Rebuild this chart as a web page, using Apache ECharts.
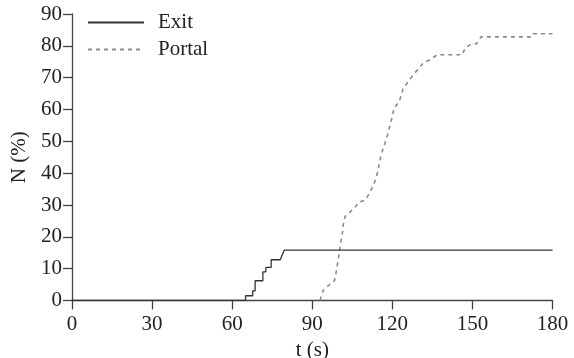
<!DOCTYPE html>
<html>
<head>
<meta charset="utf-8">
<script src="https://cdn.jsdelivr.net/npm/echarts@6/dist/echarts.min.js"></script>
<style>html,body{margin:0;padding:0;background:#fff}#c{width:574px;height:358px}</style>
</head>
<body>
<div id="c"></div>
<script>
const xTicks = [0, 30, 60, 90, 120, 150, 180];
const yTicks = [0, 10, 20, 30, 40, 50, 60, 70, 80, 90];
const seriesNames = ['Exit', 'Portal'];
const exitT = [0, 65, 65, 67.7, 67.7, 68.6, 68.6, 71.5, 71.5, 72.6, 72.6, 74.6, 74.6, 78, 79.5, 180];
const exitN = [0, 0, 1.5, 1.5, 3.0, 3.0, 6.2, 6.2, 9.0, 9.0, 10.4, 10.4, 12.8, 12.8, 15.8, 15.8];
const portalT = [93, 93.3, 94.2, 96.4, 98.3, 98.9, 99.4, 99.9, 100.3, 100.8, 101.3, 101.6, 102.3, 103.9, 105.8, 107.3, 109.9, 111.6, 112.9, 113.9, 114.6, 115.1, 115.8, 116.8, 117.9, 118.5, 120, 120.6, 122.6, 124.1, 126, 127.8, 129.7, 131.6, 134.4, 136.8, 146.3, 147.2, 149.1, 151.6, 152.2, 153.2, 172.2, 172.8, 180];
const portalN = [0, 1.2, 3.3, 4.9, 6.2, 8.6, 11.2, 13.8, 16.2, 18.8, 21.3, 23.7, 26.4, 27.6, 29.0, 30.8, 31.6, 33.9, 36.3, 38.4, 40.8, 43.1, 45.7, 48.4, 51.0, 53.1, 57.8, 60.4, 62.5, 66.7, 68.8, 70.9, 72.7, 74.6, 75.8, 77.2, 77.2, 79.3, 80.3, 80.7, 81.4, 82.8, 82.8, 83.8, 83.8];

const font = 'Liberation Serif';
const fs = 21;
const axisColor = '#444';
const zip = (a, b) => a.map((v, i) => [v, b[i]]);

const chart = echarts.init(document.getElementById('c'), null, {renderer: 'canvas'});
chart.setOption({
  animation: false,
  backgroundColor: '#fff',
  grid: {left: 72, right: 21.5, top: 14, bottom: 57.5, containLabel: false, outerBoundsMode: 'none'},
  legend: {
    orient: 'vertical', left: 82, top: 7, itemGap: 6,
    itemWidth: 56, itemHeight: 21,
    data: seriesNames,
    itemStyle: {color: 'rgba(0,0,0,0)', borderWidth: 0, opacity: 0},
    textStyle: {fontFamily: font, fontSize: fs, color: '#222', padding: [0, 0, 0, 9]}
  },
  xAxis: {
    type: 'value', min: xTicks[0], max: xTicks[xTicks.length - 1], interval: 30,
    name: 't (s)', nameLocation: 'middle', nameGap: 39,
    nameTextStyle: {fontFamily: font, fontSize: fs, color: '#222'},
    axisLine: {show: true, lineStyle: {color: axisColor, width: 1.3}},
    axisTick: {show: true, length: 9, lineStyle: {color: axisColor, width: 1.3}},
    axisLabel: {fontFamily: font, fontSize: fs, color: '#222', margin: 13},
    splitLine: {show: false}
  },
  yAxis: {
    type: 'value', min: yTicks[0], max: yTicks[yTicks.length - 1], interval: 10,
    name: 'N (%)', nameLocation: 'middle', nameGap: 28, nameRotate: 90,
    nameTextStyle: {fontFamily: font, fontSize: fs, color: '#222'},
    axisLine: {show: true, lineStyle: {color: axisColor, width: 1.3}},
    axisTick: {show: true, length: 9, lineStyle: {color: axisColor, width: 1.3}},
    axisLabel: {fontFamily: font, fontSize: fs, color: '#222', margin: 10},
    splitLine: {show: false}
  },
  series: [
    {
      name: seriesNames[0], type: 'line', symbol: 'none', z: 3,
      data: zip(exitT, exitN),
      lineStyle: {color: '#333', width: 1.3, type: 'solid'},
      itemStyle: {color: '#333'}
    },
    {
      name: seriesNames[1], type: 'line', symbol: 'none', z: 2,
      data: zip(portalT, portalN),
      lineStyle: {color: '#8a8a8a', width: 1.6, type: [4, 4]},
      itemStyle: {color: '#8a8a8a'}
    }
  ]
});
</script>
</body>
</html>
